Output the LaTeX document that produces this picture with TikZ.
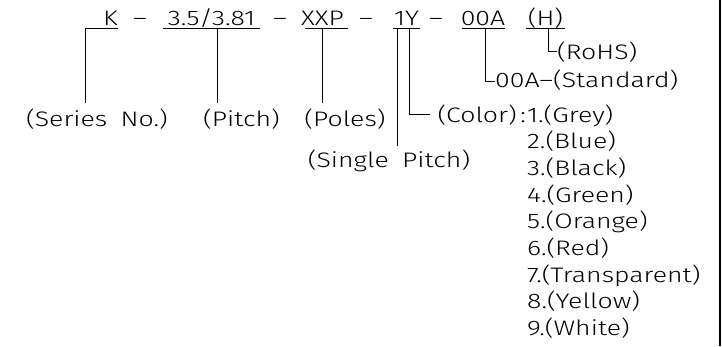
\documentclass[tikz,border=0pt]{standalone}
\usepackage{fontspec}
\setmainfont{Fira Sans}[UprightFont={* Light},FakeStretch=1.27,WordSpace=1.8]

\begin{document}
\begin{tikzpicture}[x=1pt,y=-1pt,
    txt/.style={inner sep=0pt,anchor=base,font=\fontsize{21}{24}\selectfont},
    txtl/.style={txt,anchor=base west},
    lead/.style={line width=1pt}]
\useasboundingbox (0,0) rectangle (722,346);

% part number
\node[txt] (k) at (110.5,25) {K};
\node[txt] (d1) at (140,25) {--};
\node[txt] (pitch) at (211.5,25) {3.5/3.81};
\node[txt] (d2) at (280,25) {--};
\node[txt] (poles) at (322.5,25) {XXP};
\node[txt] (d3) at (366,25) {--};
\node[txt] (color) at (406.5,25) {1Y};
\node[txt] (d4) at (436,25) {--};
\node[txt] (std) at (483,25) {00A};
\node[txt] (rohs) at (545.5,25) {(H)};

% underlines
\coordinate (uk) at (85,28);
\coordinate (upitch) at (217,28);
\coordinate (upoles) at (322,28);
\coordinate (usingle) at (397,28);
\coordinate (ucolor) at (409,28);
\coordinate (ustd) at (485,28);
\coordinate (urohs) at (548,28);
\draw[lead] (uk) -- (118,28);
\draw[lead] (163,28) -- (260,28);
\draw[lead] (305,28) -- (348,28);
\draw[lead] (393,28) -- (420,28);
\draw[lead] (462,28) -- (505,28);
\draw[lead] (526,28) -- (565,28);

% labels
\node[txt] (lseries) at (97,126) {(Series No.)};
\node[txt] (lpitch) at (241.5,126) {(Pitch)};
\node[txt] (lpoles) at (345,126) {(Poles)};
\node[txt] (lsingle) at (389,167) {(Single Pitch)};
\node[txt,anchor=base east] (lcolor) at (526,122) {(Color)\,:};
\node[txtl] (c1) at (527,122) {1.(Grey)};
\node[txtl] (lstd) at (495,87) {00A--(Standard)};
\node[txtl] (lrohs) at (557,59) {(RoHS)};

\foreach \n/\c [count=\i from 2] in {2/Blue,3/Black,4/Green,5/Orange,6/Red,7/Transparent,8/Yellow,9/White}
  \node[txtl] (c\n) at (527,{122+26.7*(\i-1)}) {\n.(\c)};

% leaders
\draw[lead] (uk) -- ([yshift=5pt]uk |- lseries.north);
\draw[lead] (upitch) -- ([yshift=5pt]upitch |- lpitch.north);
\draw[lead] (upoles) -- ([yshift=5pt]upoles |- lpoles.north);
\draw[lead] (usingle) -- ([yshift=3pt]usingle |- lsingle.north);
\draw[lead] (ucolor) |- ([xshift=-7pt,yshift=8pt]lcolor.base west);
\draw[lead] (ustd) |- ([yshift=6pt]lstd.base west);
\draw[lead] (urohs) |- ([yshift=8pt]lrohs.base west);

% frame edge
\draw[line width=2pt] (720,0) -- (720,346);
\end{tikzpicture}
\end{document}
